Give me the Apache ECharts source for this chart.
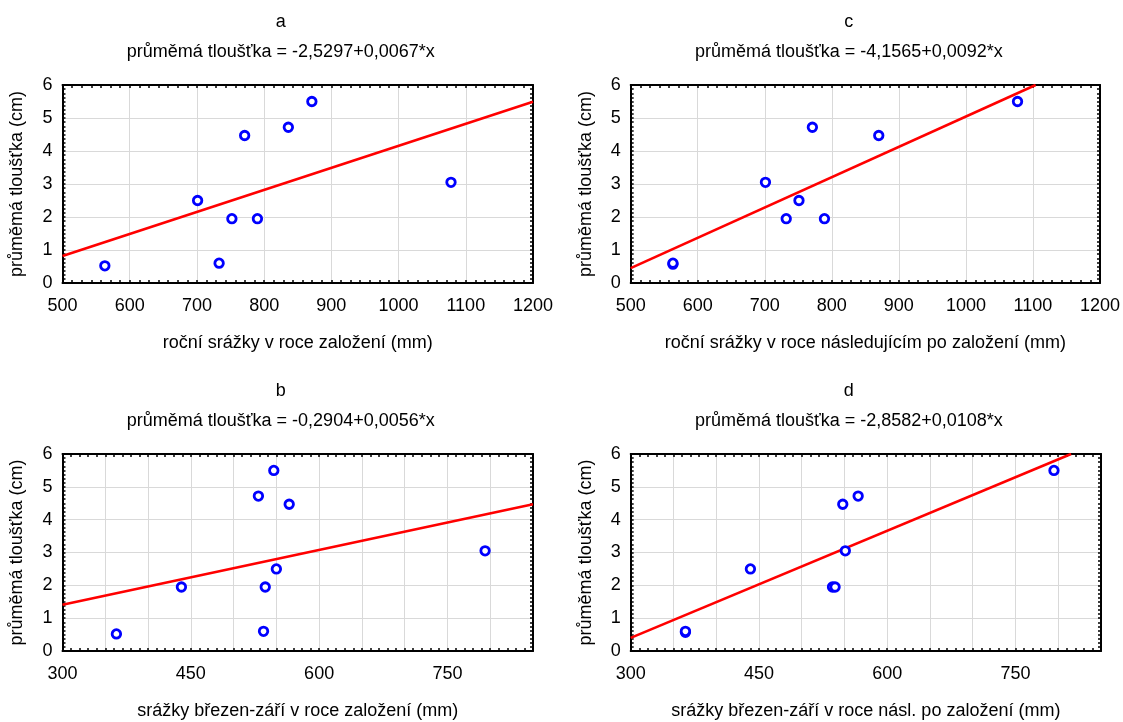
<!DOCTYPE html>
<html>
<head>
<meta charset="utf-8">
<script src="https://cdn.jsdelivr.net/npm/echarts@6/dist/echarts.min.js"></script>
<style>
html,body{margin:0;padding:0;background:#fff;}
#main{width:1123px;height:722px;}
</style>
</head>
<body>
<div id="main"></div>
<script>
// ---- data ----
const panelLetters = ['a', 'c', 'b', 'd'];
const equations = [
  'průměmá tloušťka = -2,5297+0,0067*x',
  'průměmá tloušťka = -4,1565+0,0092*x',
  'průměmá tloušťka = -0,2904+0,0056*x',
  'průměmá tloušťka = -2,8582+0,0108*x'
];
const xAxisNames = [
  'roční srážky v roce založení (mm)',
  'roční srážky v roce následujícím po založení (mm)',
  'srážky březen-září v roce založení (mm)',
  'srážky březen-září v roce násl. po založení (mm)'
];
const yAxisName = 'průměmá tloušťka (cm)';

const xA = [563, 701, 733, 752, 771, 790, 836, 871, 1078];
const yA = [0.52, 2.50, 0.60, 1.95, 4.47, 1.95, 4.72, 5.50, 3.05];
const xC = [563, 563, 701, 732, 751, 771, 789, 870, 1077];
const yC = [0.57, 0.60, 3.05, 1.95, 2.50, 4.72, 1.95, 4.47, 5.50];
const xB = [363, 439, 529, 535, 537, 547, 550, 565, 794];
const yB = [0.52, 1.95, 4.72, 0.60, 1.95, 5.50, 2.50, 4.47, 3.05];
const xD = [364, 364, 440, 536, 539, 548, 551, 566, 795];
const yD = [0.57, 0.60, 2.50, 1.95, 1.95, 4.47, 3.05, 4.72, 5.50];

const lineA = [[500, 0.82], [1200, 5.49]];
const lineC = [[500, 0.45], [1104, 6.0]];
const lineB = [[300, 1.41], [850, 4.47]];
const lineD = [[300, 0.40], [815, 6.0]];

const xRanges = [[500, 1200, 100], [500, 1200, 100], [300, 850, 50], [300, 850, 50]];
const xLabelStep = [100, 100, 150, 150];
const yRange = [0, 6, 1];

// ---- layout ----
const FONT = "'Liberation Sans', Arial, sans-serif";
const grids = [
  {left: 62.5, top: 85, width: 470.5, height: 198},
  {left: 630.7, top: 85, width: 470.3, height: 198},
  {left: 62.5, top: 454, width: 470.5, height: 197},
  {left: 630.7, top: 454, width: 470.3, height: 197}
];
const xsArr = [xA, xC, xB, xD];
const ysArr = [yA, yC, yB, yD];
const linesArr = [lineA, lineC, lineB, lineD];
const minorX = [7, 7, 5, 5];

const frameLine = {show: true, onZero: false, lineStyle: {color: '#000', width: 2}};
const tickStyle = {show: true, inside: true, length: 3, lineStyle: {color: '#000', width: 1.5}};
const gridLineStyle = {show: true, lineStyle: {color: '#d9d9d9', width: 1}};

const xAxes = [], yAxes = [], series = [], titles = [];
grids.forEach((g, i) => {
  const [xmin, xmax, xint] = xRanges[i];
  const step = xLabelStep[i];
  xAxes.push({
    type: 'value', gridIndex: i, min: xmin, max: xmax, interval: xint, position: 'bottom',
    axisLine: frameLine, axisTick: tickStyle,
    minorTick: {show: true, splitNumber: minorX[i], length: 3, lineStyle: {color: '#000', width: 1.5}},
    splitLine: gridLineStyle,
    axisLabel: {color: '#000', fontSize: 18, fontFamily: FONT, margin: 14,
      formatter: v => (Math.round(v - xmin) % step === 0 ? String(v) : '')},
    name: xAxisNames[i], nameLocation: 'middle', nameGap: 51,
    nameTextStyle: {color: '#000', fontSize: 18, fontFamily: FONT}
  });
  yAxes.push({
    type: 'value', gridIndex: i, min: yRange[0], max: yRange[1], interval: yRange[2], position: 'left',
    axisLine: frameLine, axisTick: tickStyle,
    minorTick: {show: true, splitNumber: 8, length: 3, lineStyle: {color: '#000', width: 1.5}},
    splitLine: gridLineStyle,
    axisLabel: {color: '#000', fontSize: 18, fontFamily: FONT, margin: 10},
    name: yAxisName, nameLocation: 'middle', nameGap: 36, nameRotate: 90,
    nameTextStyle: {color: '#000', fontSize: 18, fontFamily: FONT}
  });
});
grids.forEach((g, i) => {
  const [xmin, xmax, xint] = xRanges[i];
  xAxes.push({
    type: 'value', gridIndex: i, min: xmin, max: xmax, interval: xint, position: 'top',
    axisLine: frameLine, axisTick: tickStyle,
    minorTick: {show: true, splitNumber: minorX[i], length: 3, lineStyle: {color: '#000', width: 1.5}},
    splitLine: {show: false}, axisLabel: {show: false}
  });
  yAxes.push({
    type: 'value', gridIndex: i, min: yRange[0], max: yRange[1], interval: yRange[2], position: 'right',
    axisLine: frameLine, axisTick: tickStyle,
    minorTick: {show: true, splitNumber: 8, length: 3, lineStyle: {color: '#000', width: 1.5}},
    splitLine: {show: false}, axisLabel: {show: false}
  });
});

grids.forEach((g, i) => {
  series.push({
    type: 'line', xAxisIndex: i, yAxisIndex: i, data: linesArr[i],
    symbol: 'none', clip: true, silent: true,
    lineStyle: {color: '#ff0000', width: 2.6}, z: 3
  });
  series.push({
    type: 'scatter', xAxisIndex: i, yAxisIndex: i,
    data: xsArr[i].map((x, k) => [x, ysArr[i][k]]),
    symbol: 'circle', symbolSize: 8.5,
    itemStyle: {color: '#ffffff', borderColor: '#0000ff', borderWidth: 2.8, opacity: 1}, z: 4
  });
  const cx = g.left + g.width / 2 - 22;
  titles.push({
    text: panelLetters[i], left: cx, top: g.top - 77, textAlign: 'center',
    textStyle: {color: '#000', fontSize: 18, fontWeight: 'normal', fontFamily: FONT}
  });
  titles.push({
    text: equations[i], left: cx, top: g.top - 47, textAlign: 'center',
    textStyle: {color: '#000', fontSize: 18, fontWeight: 'normal', fontFamily: FONT}
  });
});

const chart = echarts.init(document.getElementById('main'), null, {renderer: 'canvas'});
chart.setOption({
  backgroundColor: '#fff',
  animation: false,
  title: titles,
  grid: grids,
  xAxis: xAxes,
  yAxis: yAxes,
  series: series
});
</script>
</body>
</html>
